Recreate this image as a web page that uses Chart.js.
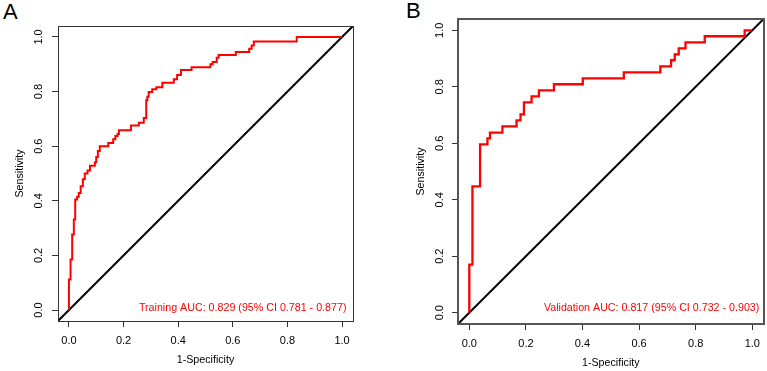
<!DOCTYPE html>
<html>
<head>
<meta charset="utf-8">
<script src="https://cdn.jsdelivr.net/npm/chart.js@4.4.1/dist/chart.umd.min.js"></script>
<style>
  html, body { margin: 0; padding: 0; background: #fff; }
  body { width: 767px; height: 371px; position: relative; overflow: hidden;
         font-family: "Liberation Sans", Arial, sans-serif; }
  canvas { position: absolute; top: 0; }
  #chart-a { left: 0; }
  #chart-b { left: 385px; }
  .panel-tag { position: absolute; font-size: 22px; line-height: 1; color: #000; }
</style>
</head>
<body>
<div class="panel-tag" style="left:3px;top:1px">A</div>
<div class="panel-tag" style="left:406px;top:0px">B</div>
<canvas id="chart-a" width="383" height="371"></canvas>
<canvas id="chart-b" width="382" height="371"></canvas>
<script>
// ROC curves for the training (A) and validation (B) cohorts.

const TICKS    = [0, 0.2, 0.4, 0.6, 0.8, 1.0];
const AXIS_MIN = -0.04;
const AXIS_MAX = 1.04;
const DIAG_X   = [AXIS_MIN, AXIS_MAX];
const DIAG_Y   = [AXIS_MIN, AXIS_MAX];

// Training cohort — staircase corners (1-specificity, sensitivity)
const TRAIN_FPR = [0, 0, 0.006, 0.012, 0.018, 0.023, 0.030, 0.036, 0.043, 0.051, 0.058,
  0.068, 0.077, 0.095, 0.100, 0.106, 0.113, 0.144, 0.162, 0.170, 0.178, 0.183, 0.227,
  0.256, 0.274, 0.283, 0.287, 0.292, 0.305, 0.320, 0.342, 0.384, 0.396, 0.410, 0.449,
  0.518, 0.526, 0.541, 0.548, 0.611, 0.660, 0.669, 0.677, 0.834, 1.000];
const TRAIN_TPR = [0, 0.112, 0.185, 0.277, 0.332, 0.405, 0.415, 0.429, 0.453, 0.479, 0.500,
  0.511, 0.528, 0.541, 0.560, 0.582, 0.600, 0.612, 0.625, 0.637, 0.645, 0.658, 0.676,
  0.686, 0.703, 0.768, 0.781, 0.798, 0.808, 0.816, 0.832, 0.845, 0.861, 0.879, 0.889,
  0.900, 0.908, 0.924, 0.934, 0.945, 0.957, 0.969, 0.983, 1.000, 1.000];
const TRAIN_LABEL = 'Training AUC: 0.829 (95% CI 0.781 - 0.877)';

// Validation cohort
const VALID_FPR = [0, 0, 0.011, 0.038, 0.064, 0.073, 0.117, 0.167, 0.181, 0.193, 0.220,
  0.246, 0.299, 0.401, 0.546, 0.675, 0.713, 0.726, 0.740, 0.764, 0.832, 0.973, 1.000];
const VALID_TPR = [0, 0.170, 0.447, 0.596, 0.617, 0.638, 0.660, 0.681, 0.702, 0.745, 0.766,
  0.787, 0.809, 0.830, 0.851, 0.872, 0.894, 0.915, 0.936, 0.957, 0.979, 1.000, 1.000];
const VALID_LABEL = 'Validation AUC: 0.817 (95% CI 0.732 - 0.903)';

const X_TITLE = '1-Specificity';
const Y_TITLE = 'Sensitivity';

const FONT = '"Liberation Sans", Arial, sans-serif';
Chart.defaults.font.family = FONT;
Chart.defaults.color = '#000';

// layout per panel (pixels)
const PANELS = [
  { id: 'chart-a', fpr: TRAIN_FPR, tpr: TRAIN_TPR, label: TRAIN_LABEL, labelAt: [1.016, 0.006],
    yWidth: 58, xHeight: 50, padTop: 26, padRight: 30,
    xTickPad: 7.7, yTickPad: 5, xTitlePad: 4.6, yTitlePad: 13.6,
    boxColor: '#333', boxWidth: 1, curveWidth: 2 },
  { id: 'chart-b', fpr: VALID_FPR, tpr: VALID_TPR, label: VALID_LABEL, labelAt: [1.025, 0.015],
    yWidth: 73, xHeight: 47, padTop: 19, padRight: 2,
    xTickPad: 7, yTickPad: 4.4, xTitlePad: 1.3, yTitlePad: 29.6,
    boxColor: '#555', boxWidth: 2, curveWidth: 2.3 }
];

const toPoints = (xs, ys) => xs.map((x, i) => ({ x, y: ys[i] }));

// box round the plot region + red AUC text
const framePlugin = {
  id: 'frame',
  afterDatasetsDraw(chart, args, opts) {
    const { ctx, chartArea: a, scales } = chart;
    ctx.save();
    ctx.font = '10.7px ' + FONT;
    ctx.fillStyle = '#ff0000';
    ctx.textAlign = 'right';
    ctx.textBaseline = 'middle';
    ctx.fillText(opts.label,
      scales.x.getPixelForValue(opts.labelAt[0]),
      scales.y.getPixelForValue(opts.labelAt[1]));
    ctx.strokeStyle = opts.boxColor;
    ctx.lineWidth = opts.boxWidth;
    const o = opts.boxWidth % 2 ? 0.5 : 0;
    ctx.strokeRect(Math.round(a.left) + o, Math.round(a.top) + o,
      Math.round(a.right - a.left), Math.round(a.bottom - a.top));
    ctx.restore();
  }
};

function axisOptions(p, horizontal) {
  return {
    type: 'linear',
    position: horizontal ? 'bottom' : 'left',
    min: AXIS_MIN,
    max: AXIS_MAX,
    afterBuildTicks: s => { s.ticks = TICKS.map(v => ({ value: v })); },
    afterFit: s => { if (horizontal) s.height = p.xHeight; else s.width = p.yWidth; },
    grid: { drawOnChartArea: false, drawTicks: true, tickLength: 6, tickColor: '#333', tickWidth: 1 },
    border: { display: true, color: p.boxColor, width: p.boxWidth },
    ticks: horizontal
      ? { autoSkip: false, maxRotation: 0, padding: p.xTickPad, font: { size: 11 },
          callback: v => v.toFixed(1) }
      : { autoSkip: false, minRotation: 90, maxRotation: 90, crossAlign: 'center',
          padding: p.yTickPad, font: { size: 11 }, callback: v => v.toFixed(1) },
    title: {
      display: true,
      text: horizontal ? X_TITLE : Y_TITLE,
      font: { size: 10.7 },
      padding: horizontal ? { top: 0, bottom: p.xTitlePad } : { top: p.yTitlePad, bottom: 0 }
    }
  };
}

PANELS.forEach(p => {
  new Chart(document.getElementById(p.id), {
    type: 'scatter',
    data: {
      datasets: [
        { data: toPoints(p.fpr, p.tpr), showLine: true, stepped: 'before',
          borderColor: '#ff0000', borderWidth: p.curveWidth, pointRadius: 0, order: 0 },
        { data: toPoints(DIAG_X, DIAG_Y), showLine: true,
          borderColor: '#000', borderWidth: 2, pointRadius: 0, order: 1 }
      ]
    },
    options: {
      responsive: false,
      animation: false,
      layout: { padding: { top: p.padTop, right: p.padRight, left: 0, bottom: 0 } },
      plugins: {
        legend: { display: false },
        tooltip: { enabled: false },
        frame: p
      },
      scales: { x: axisOptions(p, true), y: axisOptions(p, false) }
    },
    plugins: [framePlugin]
  });
});
</script>
</body>
</html>
